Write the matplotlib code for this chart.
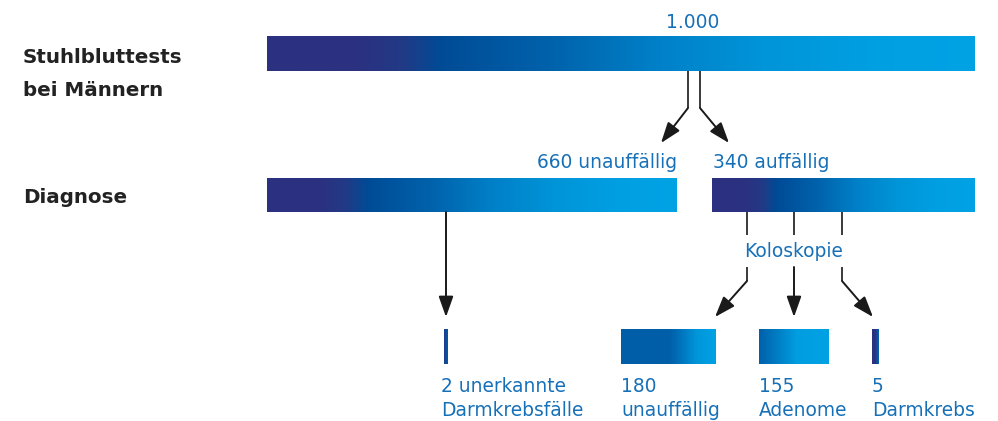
import numpy as np
import matplotlib.pyplot as plt
from matplotlib.colors import LinearSegmentedColormap

# values shown in the diagram
total = 1000
diagnose_values = [660, 340]
diagnose_labels = ['unauffällig', 'auffällig']
outcome_values = [2, 180, 155, 5]
outcome_first = ['{} unerkannte', '{}', '{}', '{}']
outcome_second = ['Darmkrebsfälle', 'unauffällig', 'Adenome', 'Darmkrebs']
row_titles = ['Stuhlbluttests\nbei Männern', 'Diagnose']

BLUE = '#1670b8'
DARK = '#222222'
LINE = '#3a3a3a'
FONT = 'DejaVu Sans'
TITLE_FONT = 'DejaVu Sans'
FS = 13.4
TFS = 14.3


def fmt(v):
    return f'{v:,}'.replace(',', '.')


def cmap(stops, name):
    return LinearSegmentedColormap.from_list(name, stops)


big_cmap = cmap([(0, '#2b3180'), (0.13, '#2b3180'), (0.19, '#223a86'),
                 (0.245, '#004b96'), (0.4, '#0062ab'), (0.55, '#0080c8'),
                 (0.7, '#0094d8'), (0.85, '#009fe2'), (1, '#00a3e5')], 'big')
small_cmaps = [
    cmap([(0, '#1f3c8c'), (1, '#005aa8')], 's2'),
    cmap([(0, '#005ea8'), (0.5, '#005ea8'), (0.58, '#006ab4'),
          (0.8, '#0096da'), (1, '#00a2e4')], 's180'),
    cmap([(0, '#0060aa'), (0.55, '#009ee1'), (1, '#00a2e4')], 's155'),
    cmap([(0, '#2b3180'), (0.45, '#2b3180'), (1, '#0066b0')], 's5'),
]

# layout in pixel coordinates (x0, x1, y0, y1)
top_box = (267, 975, 36, 71)
diag_boxes = [(267, 677, 178, 212), (712, 975, 178, 212)]
out_boxes = [(444, 447.5, 329, 364), (621, 716, 329, 364),
             (759, 829, 329, 364), (872, 879, 329, 364)]

fig = plt.figure(figsize=(9.98, 4.21), dpi=100)
ax = fig.add_axes([0, 0, 1, 1])
ax.set_xlim(0, 998)
ax.set_ylim(421, 0)
ax.axis('off')

grad = np.linspace(0, 1, 256).reshape(1, -1)


def bar(box, cm):
    x0, x1, y0, y1 = box
    ax.imshow(grad, cmap=cm, extent=[x0, x1, y1, y0], aspect='auto',
              interpolation='bilinear')


def arrow(points):
    xs, ys = zip(*points)
    ax.plot(xs[:-1], ys[:-1], color=LINE, lw=1.4, solid_capstyle='butt')
    ax.annotate('', xy=points[-1], xytext=points[-2],
                arrowprops=dict(arrowstyle='-|>,head_length=0.9,head_width=0.32',
                                mutation_scale=14, color='#1a1a1a', lw=1.4,
                                shrinkA=0, shrinkB=0))


# row titles
title_lines = row_titles[0].split('\n')
ax.text(23, 63, title_lines[0], fontsize=TFS, fontweight='bold',
        color=DARK, family=TITLE_FONT, va='baseline')
ax.text(23, 96.5, title_lines[1], fontsize=TFS, fontweight='bold',
        color=DARK, family=TITLE_FONT, va='baseline')
ax.text(23, 203, row_titles[1], fontsize=TFS, fontweight='bold',
        color=DARK, family=TITLE_FONT, va='baseline')

# total bar
bar(top_box, big_cmap)
ax.text(692.5, 27.5, fmt(total), fontsize=FS, color=BLUE, family=FONT,
        ha='center', va='baseline')

# split arrows
arrow([(688, 71), (688, 108), (661, 143)])
arrow([(700, 71), (700, 108), (729, 143)])

# diagnose bars
for box in diag_boxes:
    bar(box, big_cmap)
ax.text(677, 168.5, f'{diagnose_values[0]} {diagnose_labels[0]}', fontsize=FS,
        color=BLUE, family=FONT, ha='right', va='baseline')
ax.text(713, 168.5, f'{diagnose_values[1]} {diagnose_labels[1]}', fontsize=FS,
        color=BLUE, family=FONT, ha='left', va='baseline')

# missed cancers
arrow([(446, 212), (446, 317)])

# colonoscopy branches
for x in (747, 794, 842):
    ax.plot([x, x], [212, 235], color=LINE, lw=1.4, solid_capstyle='butt')
ax.text(794, 257, 'Koloskopie', fontsize=FS, color=BLUE, family=FONT,
        ha='center', va='baseline')
arrow([(747, 267), (747, 281), (715, 317)])
arrow([(794, 267), (794, 317)])
arrow([(842, 267), (842, 281), (873, 317)])

# outcome bars
for box, cm, v, l1, l2 in zip(out_boxes, small_cmaps, outcome_values,
                              outcome_first, outcome_second):
    bar(box, cm)
    x = box[0] - 2.5 if v == 2 else box[0]
    ax.text(x, 392.5, l1.format(v), fontsize=FS, color=BLUE, family=FONT,
            va='baseline')
    ax.text(x, 415.5, l2, fontsize=FS, color=BLUE, family=FONT, va='baseline')

fig.savefig('out.png', dpi=100)
